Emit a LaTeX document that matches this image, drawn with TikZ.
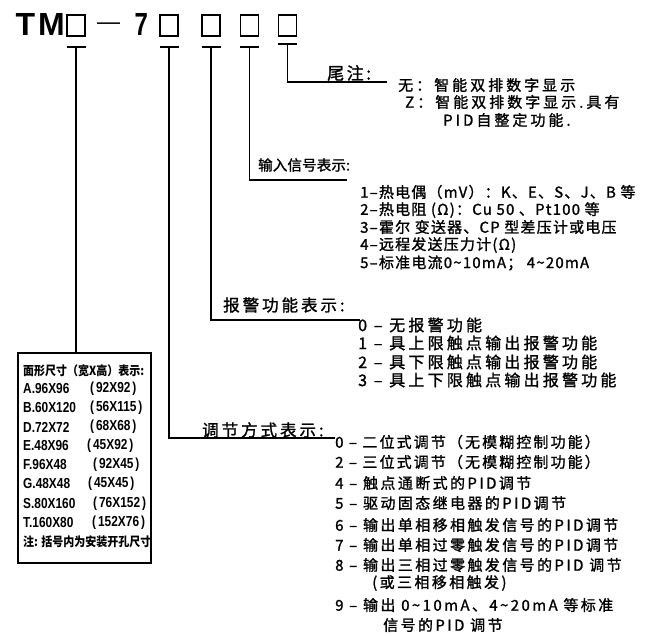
\documentclass[tikz,border=0pt]{standalone}
\usepackage{fontspec}
\usepackage{graphicx}
\newfontfamily\cjk{Noto Sans CJK SC}
\newfontfamily\cjkm[FakeBold=1.3]{Noto Sans CJK SC}
\newfontfamily\lat{Liberation Sans}
\newcommand{\tld}{\char"007E\relax}
\newcommand{\bxc}[1]{\scalebox{0.88}[1]{#1}}
\newcommand{\bxl}[1]{{\lat\bfseries\fontsize{14.5}{16}\selectfont\scalebox{0.82}[1]{#1}}}
\tikzset{
  ln/.style={line width=1.1pt},
  sq/.style={draw, line width=1.2pt, minimum width=18pt, minimum height=21pt, inner sep=0pt},
  hd/.style={anchor=west, inner sep=0pt, font=\cjkm\fontsize{16.5}{18}\selectfont\addfontfeature{LetterSpace=#1}},
  hd/.default=18,
  it/.style={anchor=west, inner sep=0pt, font=\cjkm\fontsize{15}{17}\selectfont\addfontfeature{LetterSpace=#1}},
  it/.default=15,
  ib/.style={anchor=west, inner sep=0pt, font=\cjkm\fontsize{16}{18}\selectfont\addfontfeature{LetterSpace=#1}},
  ib/.default=20,
  bx/.style={anchor=west, inner sep=0pt, font=\cjk\bfseries\fontsize{12.5}{14}\selectfont},
}
\begin{document}
\begin{tikzpicture}[x=1pt,y=-1pt]
\useasboundingbox (0,0) rectangle (647,636);

% header
\node[anchor=base west, inner sep=0pt, font=\lat\bfseries\fontsize{32}{34}\selectfont] (tm) at (15.5,36) {T\kern3pt M};
\node[sq] (b1) at (76,25.5) {};
\node[anchor=base, inner sep=0pt, font=\lat\fontsize{23}{25}\selectfont] (dash) at (108.5,30) {—};
\node[anchor=base west, inner sep=0pt, font=\lat\bfseries\fontsize{32}{34}\selectfont] (seven) at (134.5,36) {\scalebox{0.75}[1]{7}};
\node[sq] (b2) at (169,25.5) {};
\node[sq] (b3) at (211,25.5) {};
\node[sq] (b4) at (249.5,25.5) {};
\node[sq] (b5) at (287.5,25.5) {};

\coordinate (t1) at (76,47);
\coordinate (t2) at (169,47);
\coordinate (t3) at (211,47);
\coordinate (t4) at (249.5,47);
\coordinate (t5) at (287.5,44);
\foreach \t in {t1,t2,t3,t4,t5}
  \draw[ln] ([xshift=-9.5pt]\t) -- ([xshift=9.5pt]\t);

% ends of connectors
\coordinate (e5) at (387,82);
\coordinate (e4) at (347,180);
\coordinate (e3) at (360,320);
\coordinate (e2) at (335,438);

% size box
\node[draw, line width=1.8pt, minimum width=133pt, minimum height=210pt, anchor=north west, inner sep=0pt] (sz) at (17,352) {};

\draw[ln] (t1) -- (t1 |- sz.north);
\draw[ln] (t2) |- (e2);
\draw[ln] (t3) |- (e3);
\draw[ln] (t4) |- (e4);
\draw[ln] (t5) |- (e5);

% 尾注
\node[anchor=west, inner sep=0pt, font=\cjkm\fontsize{17}{19}\selectfont\addfontfeature{LetterSpace=15}] (wz) at (327,73) {尾注:};
\node[it=20] (wz1) at (398,85) {无：智能双排数字显示};
\node[it=20] (wz2) at (405,102) {Z：智能双排数字显示.具有};
\node[it=20] (wz3) at (443,120) {PID自整定功能.};

% 输入信号
\node[anchor=west, inner sep=0pt, font=\cjkm\fontsize{14.5}{16}\selectfont\addfontfeature{LetterSpace=1}] (sr) at (258,165) {输入信号表示:};
\node[it=8] (sr1) at (360,192) {1–热电偶（mV）：K、E、S、J、B 等};
\node[it=8] (sr2) at (360,210) {2–热电阻 (Ω)：Cu 50 、Pt100 等};
\node[it=8] (sr3) at (360,227) {3–霍尔 变送器、CP 型差压计或电压};
\node[it=8] (sr4) at (360,245) {4–远程发送压力计(Ω)};
\node[it=8] (sr5) at (360,263) {5–标准电流0\tld10mA； 4\tld20mA};

% 报警
\node[hd] (bj) at (223,305) {报警功能表示:};
\node[ib] (bj0) at (358,325) {0 – 无报警功能};
\node[ib] (bj1) at (358,343) {1 – 具上限触点输出报警功能};
\node[ib] (bj2) at (358,362) {2 – 具下限触点输出报警功能};
\node[ib] (bj3) at (358,380) {3 – 具上下限触点输出报警功能};

% 调节
\node[hd] (tj) at (202,430) {调节方式表示:};
\node[it=14] (tj0) at (335,442) {0 – 二位式调节（无模糊控制功能）};
\node[it=14] (tj2) at (335,462) {2 – 三位式调节（无模糊控制功能）};
\node[it=16] (tj4) at (335,483) {4 – 触点通断式的PID调节};
\node[it=16] (tj5) at (335,503) {5 – 驱动固态继电器的PID调节};
\node[it=16] (tj6) at (335,525) {6 – 输出单相移相触发信号的PID调节};
\node[it=16] (tj7) at (335,545) {7 – 输出单相过零触发信号的PID调节};
\node[it=16] (tj8) at (335,565) {8 – 输出三相过零触发信号的PID 调节};
\node[it=16] (tj8b) at (372,583) {(或三相移相触发)};
\node[it=16] (tj9) at (335,605) {9 – 输出 0\tld10mA、4\tld20mA 等标准};
\node[it=16] (tj9b) at (383,625) {信号的PID 调节};

% size box text
\node[bx] (s0) at (23,371) {\bxc{面形尺寸（宽X高）表示:}};
\node[bx] (sA) at (23,389) {\bxl{A.96X96}};
\node[bx] (sB) at (23,408) {\bxl{B.60X120}};
\node[bx] (sD) at (23,427) {\bxl{D.72X72}};
\node[bx] (sE) at (23,446) {\bxl{E.48X96}};
\node[bx] (sF) at (23,465) {\bxl{F.96X48}};
\node[bx] (sG) at (23,484) {\bxl{G.48X48}};
\node[bx] (sS) at (23,504) {\bxl{S.80X160}};
\node[bx] (sT) at (23,523) {\bxl{T.160X80}};
\node[bx] (rA) at (90,389) {\bxl{(\,92X92\,)}};
\node[bx] (rB) at (90,408) {\bxl{(\,56X115\,)}};
\node[bx] (rD) at (90,427) {\bxl{(\,68X68\,)}};
\node[bx] (rE) at (87,446) {\bxl{(\,45X92\,)}};
\node[bx] (rF) at (93,465) {\bxl{(\,92X45\,)}};
\node[bx] (rG) at (88,484) {\bxl{(\,45X45\,)}};
\node[bx] (rS) at (93,504) {\bxl{(\,76X152\,)}};
\node[bx] (rT) at (92,523) {\bxl{(\,152X76\,)}};
\node[bx] (sn) at (23,542) {\bxc{注: 括号内为安装开孔尺寸}};
\end{tikzpicture}
\end{document}
